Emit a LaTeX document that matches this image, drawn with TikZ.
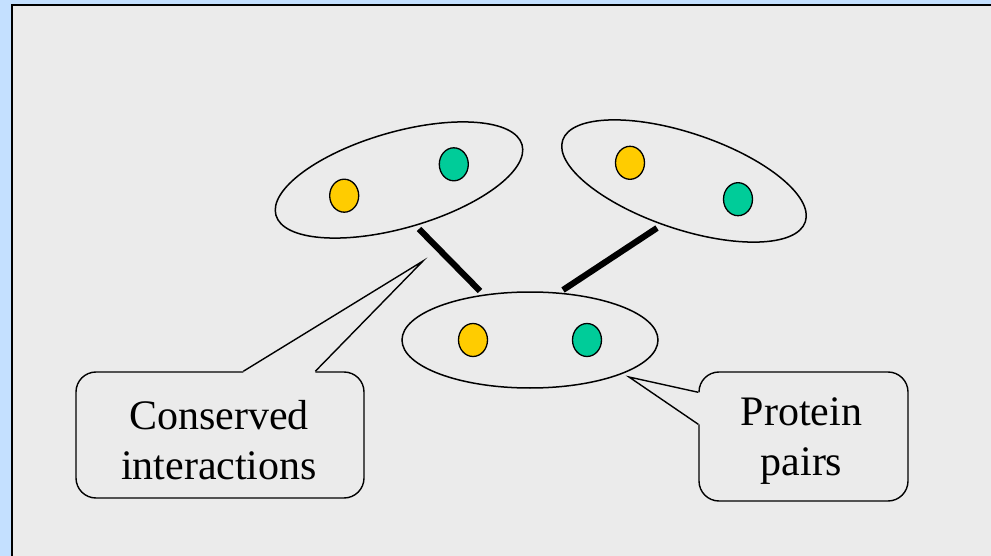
\documentclass[tikz,border=0pt]{standalone}
\usepackage{fontspec}
\setmainfont{Liberation Serif}
\usetikzlibrary{shapes.geometric,calc}
\definecolor{slidebg}{RGB}{196,224,255}
\definecolor{panel}{RGB}{235,235,235}
\definecolor{protA}{RGB}{255,204,0}
\definecolor{protB}{RGB}{0,204,153}
\begin{document}
\begin{tikzpicture}[x=1pt,y=-1pt,
  pair/.style={ellipse,draw,line width=1.5pt,minimum width=256pt,minimum height=96pt,inner sep=0pt},
  protein/.style={ellipse,draw,line width=1.3pt,minimum width=29pt,minimum height=33pt,inner sep=0pt},
  link/.style={line width=6.2pt},
  callout/.style={draw,rounded corners=20pt,line width=1.4pt,fill=panel,inner sep=0pt},
  pointer/.style={line width=1.4pt,line join=miter},
  calltext/.style={align=center,font=\fontsize{42}{50}\selectfont,inner sep=0pt}]

% page and panel
\useasboundingbox (0,0) rectangle (991,556);
\clip (0,0) rectangle (991,556);
\fill[slidebg] (0,0) rectangle (991,556);
\filldraw[fill=panel,draw=black,line width=2pt] (12,5) rectangle (1020,590);

% protein pairs
\node[pair,rotate=16]    (L) at (399,180) {};
\node[pair,rotate=-18.6] (R) at (684,181) {};
\node[pair]              (B) at (530,340) {};

\node[protein,fill=protA] (L1) at ($(L)+(-54.8,15.7)$) {};
\node[protein,fill=protB] (L2) at ($(L)+(54.8,-15.7)$) {};
\node[protein,fill=protA] (R1) at ($(R)+(-54,-18.2)$) {};
\node[protein,fill=protB] (R2) at ($(R)+(54,18.2)$) {};
\node[protein,fill=protA] (B1) at ($(B)+(-57,0)$) {};
\node[protein,fill=protB] (B2) at ($(B)+(57,0)$) {};

% conserved interactions
\coordinate (LBa) at (419,229);
\coordinate (LBb) at (480,291);
\coordinate (RBa) at (657,228);
\coordinate (RBb) at (563,290);
\draw[link] (LBa) -- (LBb);
\draw[link] (RBa) -- (RBb);

% callout: conserved interactions
\node[callout,minimum width=288pt,minimum height=126pt] (c1) at (220,435) {};
\coordinate (c1tip) at (423,261);
\coordinate (c1a) at ($(c1.north west)+(168,0)$);
\coordinate (c1b) at ($(c1.north west)+(240,0)$);
\fill[panel] ($(c1a)+(0,1.5)$) -- (c1a) -- (c1tip) -- (c1b) -- ($(c1b)+(0,1.5)$) -- cycle;
\draw[pointer] (c1a) -- (c1tip) -- (c1b);
\node[calltext] (c1text) at ($(c1.center)+(-1,5.6)$) {Conserved\\interactions};

% callout: protein pairs
\node[callout,minimum width=209pt,minimum height=129pt] (c2) at (803.5,436.5) {};
\coordinate (c2tip) at (629,377);
\coordinate (c2a) at ($(c2.north west)+(0,21)$);
\coordinate (c2b) at ($(c2.north west)+(0,53)$);
\fill[panel] ($(c2a)+(1.5,0)$) -- (c2a) -- (c2tip) -- (c2b) -- ($(c2b)+(1.5,0)$) -- cycle;
\draw[pointer] (c2a) -- (c2tip) -- (c2b);
\node[calltext] (c2text) at ($(c2.center)+(-2,5)$) {Protein\\pairs};
\end{tikzpicture}
\end{document}
